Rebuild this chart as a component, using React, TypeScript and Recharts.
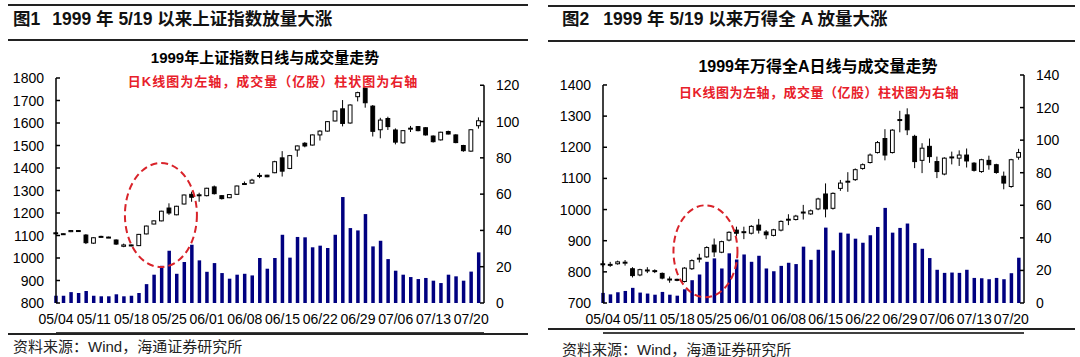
import React from 'react';
import { ComposedChart, Bar, XAxis, YAxis, ReferenceDot, ReferenceLine } from 'recharts';

// x axis: trading-day index, one label per week
const weekTicks = [0, 5, 10, 15, 20, 25, 30, 35, 40, 45, 50, 55];
const weekLabels = ['05/04', '05/11', '05/18', '05/25', '06/01', '06/08', '06/15', '06/22', '06/29', '07/06', '07/13', '07/20'];

// 上证指数 daily K line + volume (亿股)
const shOpen = [1108, 1106, 1117, 1120, 1102, 1066, 1094, 1093, 1080, 1052, 1058, 1055, 1107, 1151, 1165, 1222, 1192, 1240, 1283, 1279, 1277, 1316, 1277, 1268, 1283, 1329, 1333, 1365, 1368, 1379, 1445, 1398, 1480, 1510, 1502, 1547, 1564, 1609, 1663, 1600, 1717, 1754, 1675, 1570, 1620, 1569, 1512, 1575, 1584, 1579, 1542, 1525, 1562, 1547, 1500, 1475, 1588];
const shClose = [1112, 1108, 1122, 1122, 1068, 1090, 1096, 1091, 1062, 1058, 1056, 1105, 1142, 1165, 1208, 1200, 1230, 1280, 1270, 1281, 1310, 1286, 1264, 1282, 1320, 1331, 1346, 1367, 1361, 1428, 1386, 1455, 1498, 1498, 1547, 1564, 1606, 1653, 1598, 1680, 1735, 1690, 1563, 1613, 1584, 1515, 1566, 1577, 1566, 1547, 1517, 1559, 1551, 1513, 1477, 1570, 1610];
const shHigh = [1115, 1110, 1124, 1124, 1106, 1092, 1099, 1095, 1083, 1064, 1060, 1107, 1144, 1167, 1210, 1243, 1232, 1282, 1295, 1290, 1312, 1322, 1279, 1284, 1322, 1340, 1352, 1378, 1370, 1432, 1475, 1458, 1500, 1515, 1549, 1568, 1608, 1655, 1702, 1683, 1739, 1756, 1680, 1623, 1628, 1576, 1568, 1587, 1586, 1581, 1545, 1561, 1566, 1550, 1503, 1572, 1625];
const shLow = [1105, 1103, 1115, 1118, 1062, 1063, 1092, 1089, 1058, 1048, 1052, 1053, 1105, 1150, 1163, 1192, 1190, 1238, 1250, 1250, 1274, 1282, 1260, 1266, 1281, 1325, 1330, 1355, 1359, 1377, 1362, 1395, 1450, 1492, 1500, 1522, 1562, 1607, 1585, 1597, 1696, 1668, 1540, 1532, 1569, 1505, 1508, 1560, 1563, 1544, 1513, 1522, 1549, 1510, 1472, 1472, 1575];
const shVolume = [4.0, 4.0, 6.0, 5.5, 6.6, 4.0, 3.7, 3.7, 4.8, 3.7, 4.0, 5.5, 10.4, 15.6, 20.5, 28.8, 16.1, 22.6, 32.1, 23.5, 17.2, 22.0, 16.5, 13.4, 15.6, 16.1, 15.2, 24.8, 18.9, 24.8, 37.6, 25.0, 36.4, 36.2, 30.7, 31.6, 30.3, 37.6, 58.4, 41.3, 40.0, 49.0, 31.2, 34.3, 24.2, 17.8, 15.6, 14.3, 13.2, 13.8, 12.3, 11.0, 15.6, 14.7, 12.3, 17.3, 27.9];

// 万得全A daily K line + volume (亿股)
const waOpen = [824, 822, 826, 829, 810, 790, 804, 802, 795, 775, 776, 769, 810, 842, 848, 886, 863, 902, 934, 927, 924, 950, 928, 917, 934, 967, 968, 990, 986, 1002, 1050, 1004, 1068, 1089, 1096, 1132, 1151, 1183, 1228, 1183, 1287, 1304, 1235, 1158, 1203, 1154, 1114, 1167, 1165, 1175, 1149, 1122, 1158, 1144, 1107, 1074, 1168];
const waClose = [826, 824, 832, 831, 788, 807, 806, 804, 780, 777, 773, 812, 836, 844, 878, 864, 897, 927, 924, 929, 946, 934, 919, 935, 962, 969, 979, 992, 996, 1034, 1002, 1052, 1085, 1091, 1128, 1144, 1175, 1215, 1175, 1255, 1289, 1256, 1154, 1197, 1170, 1122, 1165, 1169, 1175, 1156, 1126, 1160, 1144, 1119, 1085, 1160, 1183];
const waHigh = [836, 832, 836, 838, 815, 810, 815, 808, 798, 785, 778, 815, 840, 858, 882, 907, 900, 930, 945, 945, 950, 970, 934, 938, 965, 985, 983, 1015, 1000, 1038, 1084, 1055, 1095, 1120, 1132, 1148, 1180, 1220, 1258, 1258, 1317, 1325, 1240, 1213, 1228, 1170, 1168, 1186, 1190, 1196, 1152, 1163, 1173, 1147, 1122, 1163, 1195];
const waLow = [815, 816, 823, 820, 782, 786, 796, 796, 776, 765, 770, 766, 806, 830, 845, 848, 860, 898, 915, 905, 920, 923, 905, 914, 930, 950, 965, 968, 983, 998, 975, 1000, 1060, 1057, 1092, 1128, 1148, 1180, 1158, 1180, 1248, 1239, 1133, 1117, 1150, 1101, 1110, 1145, 1140, 1135, 1122, 1118, 1128, 1115, 1065, 1070, 1160];
const waVolume = [6.2, 5.3, 6.6, 7.4, 9.3, 6.4, 5.8, 5.1, 6.8, 5.1, 4.5, 8.4, 14.0, 17.5, 25.3, 27.4, 21.2, 30.5, 26.7, 29.8, 25.3, 29.0, 21.2, 19.5, 22.8, 24.7, 23.9, 34.6, 26.5, 32.7, 46.3, 32.3, 43.2, 42.6, 39.5, 37.0, 41.6, 46.7, 58.4, 43.2, 46.1, 48.8, 36.8, 33.3, 27.6, 20.4, 18.5, 18.7, 18.5, 20.4, 15.4, 15.2, 14.6, 15.4, 14.6, 18.3, 27.8];

// axis ticks
const shPriceTicks = [800, 900, 1000, 1100, 1200, 1300, 1400, 1500, 1600, 1700, 1800];
const shVolTicks = [0, 20, 40, 60, 80, 100, 120];
const waPriceTicks = [700, 800, 900, 1000, 1100, 1200, 1300, 1400];
const waVolTicks = [0, 20, 40, 60, 80, 100, 120, 140];

// red dashed circle around the 5/19 breakout (index, price)
const shCircle = { i: 13.9, price: 1191 };
const waCircle = { i: 13.8, price: 866 };

const X_MAX = 56.7;
const FONT = "'Liberation Sans', Arial, 'Noto Sans CJK SC', sans-serif";
const axisStyle = { stroke: '#000', strokeWidth: 1.5 };

type Row = { i: number; open: number; close: number; high: number; low: number; vol: number };

function makeRows(open: number[], close: number[], high: number[], low: number[], vol: number[]): Row[] {
  return open.map((o, i) => ({ i, open: o, close: close[i], high: high[i], low: low[i], vol: vol[i] }));
}

const shRows = makeRows(shOpen, shClose, shHigh, shLow, shVolume);
const waRows = makeRows(waOpen, waClose, waHigh, waLow, waVolume);

function Candle(props: any) {
  const { x, y, width, height, payload } = props;
  if (payload == null || height == null) return null;
  const top = Math.min(y, y + height);
  const h = Math.abs(height);
  const { open, close, high, low } = payload as Row;
  const k = h / (high - low);
  const py = (v: number) => top + (high - v) * k;
  const cx = x + width / 2;
  const bTop = py(Math.max(open, close));
  const bBot = py(Math.min(open, close));
  const up = close >= open;
  return (
    <g>
      <line x1={cx} x2={cx} y1={top} y2={top + h} stroke="#000" strokeWidth={1} />
      <rect
        x={cx - 1.9}
        y={bTop}
        width={3.8}
        height={Math.max(bBot - bTop, 1)}
        fill={up ? '#fff' : '#000'}
        stroke="#000"
        strokeWidth={1}
      />
    </g>
  );
}

function LeftTick({ x, y, payload }: any) {
  return (
    <g>
      <line x1={x + 12} x2={x + 16} y1={y} y2={y} stroke="#000" strokeWidth={1.5} />
      <text x={x} y={y} dy={5} textAnchor="end" fontSize={14} fill="#000" fontFamily={FONT}>
        {payload.value}
      </text>
    </g>
  );
}

function RightTick({ x, y, payload }: any) {
  return (
    <g>
      <line x1={x - 12} x2={x - 16} y1={y} y2={y} stroke="#000" strokeWidth={1.5} />
      <text x={x} y={y} dy={5} textAnchor="start" fontSize={14} fill="#000" fontFamily={FONT}>
        {payload.value}
      </text>
    </g>
  );
}

function DateTick({ x, y, payload }: any) {
  const label = weekLabels[weekTicks.indexOf(payload.value)] ?? '';
  return (
    <text x={x} y={y} dy={-9} textAnchor="middle" fontSize={14} fill="#000" fontFamily={FONT}>
      {label}
    </text>
  );
}

interface PanelProps {
  rows: Row[];
  margin: { top: number; right: number; bottom: number; left: number };
  priceDomain: [number, number];
  priceTicks: number[];
  volDomain: [number, number];
  volTicks: number[];
  shortAxis: 'l' | 'r';
  circle: { i: number; price: number };
  rx: number;
  ry: number;
}

function Panel({ rows, margin, priceDomain, priceTicks, volDomain, volTicks, shortAxis, circle, rx, ry }: PanelProps) {
  const shortTicks = shortAxis === 'l' ? priceTicks : volTicks;
  const segX = shortAxis === 'l' ? 0 : X_MAX;
  return (
    <ComposedChart width={540} height={357} data={rows} margin={margin}>
      <XAxis
        xAxisId="v"
        type="number"
        dataKey="i"
        domain={[0, X_MAX]}
        ticks={weekTicks}
        interval={0}
        height={30}
        tickLine={false}
        tickSize={0}
        tickMargin={0}
        tick={(p: any) => <DateTick {...p} />}
        axisLine={axisStyle}
      />
      <XAxis xAxisId="c" type="number" dataKey="i" domain={[0, X_MAX]} hide />
      <YAxis
        yAxisId="l"
        orientation="left"
        width={50}
        domain={priceDomain}
        ticks={priceTicks}
        interval={0}
        tickLine={false}
        tickSize={0}
        tickMargin={12}
        tick={(p: any) => <LeftTick {...p} />}
        axisLine={shortAxis === 'l' ? false : axisStyle}
      />
      <YAxis
        yAxisId="r"
        orientation="right"
        width={40}
        domain={volDomain}
        ticks={volTicks}
        interval={0}
        tickLine={false}
        tickSize={0}
        tickMargin={12}
        tick={(p: any) => <RightTick {...p} />}
        axisLine={shortAxis === 'r' ? false : axisStyle}
      />
      <Bar xAxisId="v" yAxisId="r" dataKey="vol" fill="#000080" barSize={3.5} isAnimationActive={false} />
      <Bar
        xAxisId="c"
        yAxisId="l"
        dataKey={(d: Row) => [d.low, d.high]}
        barSize={5}
        shape={(p: any) => <Candle {...p} />}
        isAnimationActive={false}
      />
      <ReferenceLine
        xAxisId="c"
        yAxisId={shortAxis}
        segment={[
          { x: segX, y: shortTicks[0] },
          { x: segX, y: shortTicks[shortTicks.length - 1] },
        ]}
        stroke="#000"
        strokeWidth={1.5}
      />
      <ReferenceDot
        xAxisId="c"
        yAxisId="l"
        x={circle.i}
        y={circle.price}
        shape={(p: any) => (
          <ellipse cx={p.cx} cy={p.cy} rx={rx} ry={ry} fill="none" stroke="#d9232a" strokeWidth={2} strokeDasharray="7 4" />
        )}
      />
    </ComposedChart>
  );
}

const rule = (left: number, width: number, top: number): React.CSSProperties => ({
  position: 'absolute',
  left,
  width,
  top,
  height: 2,
  background: '#222',
});

const abs = (left: number, top: number, extra: React.CSSProperties = {}): React.CSSProperties => ({
  position: 'absolute',
  left,
  top,
  whiteSpace: 'pre',
  lineHeight: 1,
  fontFamily: FONT,
  ...extra,
});

export default function App() {
  const centered = { transform: 'translateX(-50%)' };
  return (
    <div style={{ position: 'absolute', left: 0, top: 0, width: 1080, height: 357, background: '#fff', overflow: 'hidden' }}>
      {/* left panel */}
      <div style={rule(8, 520, 4)} />
      <div style={abs(13, 11, { fontSize: 17.5, fontWeight: 'bold', color: '#111' })}>
        图1<span style={{ display: 'inline-block', width: 12 }} />1999 年 5/19 以来上证指数放量大涨
      </div>
      <div style={rule(8, 520, 39)} />
      <div style={abs(265, 49.5, { fontSize: 15, fontWeight: 'bold', color: '#000', ...centered })}>
        1999年上证指数日线与成交量走势
      </div>
      <div style={abs(273, 74.5, { fontSize: 13, fontWeight: 'bold', color: '#e8202a', letterSpacing: 1, ...centered })}>
        日K线图为左轴，成交量（亿股）柱状图为右轴
      </div>
      <div style={{ position: 'absolute', left: 0, top: 0 }}>
        <Panel
          rows={shRows}
          margin={{ top: 78, right: 16, bottom: 24, left: 6 }}
          priceDomain={[800, 1800]}
          priceTicks={shPriceTicks}
          volDomain={[0, 124]}
          volTicks={shVolTicks}
          shortAxis="r"
          circle={shCircle}
          rx={36}
          ry={52}
        />
      </div>
      <div style={rule(8, 520, 333)} />
      <div style={abs(13, 338.5, { fontSize: 15, color: '#222' })}>资料来源：Wind，海通证券研究所</div>

      {/* right panel */}
      <div style={rule(548, 527, 5)} />
      <div style={abs(562, 11, { fontSize: 17.5, fontWeight: 'bold', color: '#111' })}>
        图2<span style={{ display: 'inline-block', width: 14 }} />1999 年 5/19 以来万得全 A 放量大涨
      </div>
      <div style={rule(548, 527, 40)} />
      <div style={abs(818, 59, { fontSize: 16, fontWeight: 'bold', color: '#000', ...centered })}>
        1999年万得全A日线与成交量走势
      </div>
      <div style={abs(819, 85.5, { fontSize: 13, fontWeight: 'bold', color: '#e8202a', letterSpacing: 0.5, ...centered })}>
        日K线图为左轴，成交量（亿股）柱状图为右轴
      </div>
      <div style={{ position: 'absolute', left: 540, top: 0 }}>
        <Panel
          rows={waRows}
          margin={{ top: 75, right: 16, bottom: 24, left: 13 }}
          priceDomain={[700, 1432]}
          priceTicks={waPriceTicks}
          volDomain={[0, 140]}
          volTicks={waVolTicks}
          shortAxis="l"
          circle={waCircle}
          rx={32}
          ry={46}
        />
      </div>
      <div style={rule(548, 527, 328)} />
      <div style={abs(562, 341.5, { fontSize: 15, color: '#222' })}>资料来源：Wind，海通证券研究所</div>
    </div>
  );
}
